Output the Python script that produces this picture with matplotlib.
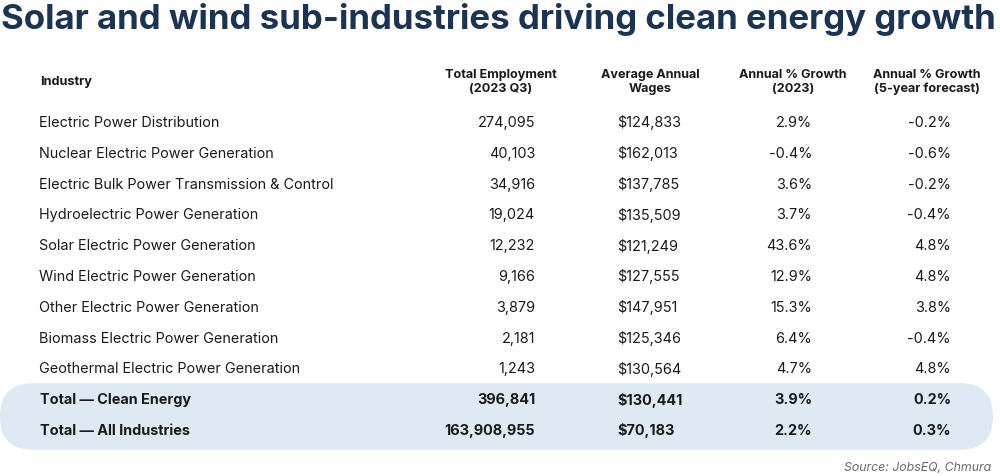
import matplotlib
matplotlib.use("Agg")
import matplotlib.pyplot as plt
from matplotlib.patches import FancyBboxPatch

title = "Solar and wind sub-industries driving clean energy growth"
headers = ["Industry", "Total Employment\n(2023 Q3)", "Average Annual\nWages",
           "Annual % Growth\n(2023)", "Annual % Growth\n(5-year forecast)"]
industries = ["Electric Power Distribution", "Nuclear Electric Power Generation",
              "Electric Bulk Power Transmission & Control", "Hydroelectric Power Generation",
              "Solar Electric Power Generation", "Wind Electric Power Generation",
              "Other Electric Power Generation", "Biomass Electric Power Generation",
              "Geothermal Electric Power Generation",
              "Total \u2014 Clean Energy", "Total \u2014 All Industries"]
employment = ["274,095", "40,103", "34,916", "19,024", "12,232", "9,166", "3,879",
              "2,181", "1,243", "396,841", "163,908,955"]
wages = ["$124,833", "$162,013", "$137,785", "$135,509", "$121,249", "$127,555",
         "$147,951", "$125,346", "$130,564", "$130,441", "$70,183"]
growth_2023 = ["2.9%", "-0.4%", "3.6%", "3.7%", "43.6%", "12.9%", "15.3%", "6.4%",
               "4.7%", "3.9%", "2.2%"]
growth_5yr = ["-0.2%", "-0.6%", "-0.2%", "-0.4%", "4.8%", "4.8%", "3.8%", "-0.4%",
              "4.8%", "0.2%", "0.3%"]
n_total_rows = 2
source = "Source: JobsEQ, Chmura"

FONT = "Inter"
W, H = 1000, 477
fig = plt.figure(figsize=(W / 100, H / 100), dpi=100)
ax = fig.add_axes([0, 0, 1, 1])
ax.set_xlim(0, W)
ax.set_ylim(H, 0)
ax.axis("off")

ax.text(1, 19, title, fontsize=25.1, fontweight="bold", color="#1b3453",
        family=FONT, va="center", ha="left")

# header
hy = 82
hx = [40, 501, 650, 793, 927]
ax.text(hx[0], hy, headers[0], fontsize=9.2, fontweight="bold", color="#1a1a1a",
        family=FONT, va="center", ha="left")
for x, h in zip(hx[1:], headers[1:]):
    ax.text(x, hy, h, fontsize=9.1, fontweight="bold", color="#1a1a1a",
            family=FONT, va="center", ha="center", linespacing=1.2)

row0, step = 123, 30.8
n = len(industries)
# highlighted band for totals
band_top = row0 + step * (n - n_total_rows) - 16
band_h = step * n_total_rows + 5
band = FancyBboxPatch((0, band_top), 993, band_h,
                      boxstyle="round,pad=0,rounding_size=33",
                      facecolor="#dfe9f3", edgecolor="none")
ax.add_patch(band)

for i in range(n):
    y = row0 + step * i
    bold = i >= n - n_total_rows
    kw = dict(fontsize=10.4, color="#1a1a1a", family=FONT, va="center",
              fontweight="bold" if bold else "normal")
    ax.text(40 if bold else 39, y, industries[i], ha="left", **kw)
    ax.text(535, y, employment[i], ha="right", **kw)
    ax.text(617, y, wages[i], ha="left", **kw)
    ax.text(812, y, growth_2023[i], ha="right", **kw)
    ax.text(951, y, growth_5yr[i], ha="right", **kw)

ax.text(991, 468, source, fontsize=8.9, style="italic", color="#6b6b6b",
        family=FONT, va="center", ha="right")

fig.savefig("out.png", dpi=100, facecolor="white")
